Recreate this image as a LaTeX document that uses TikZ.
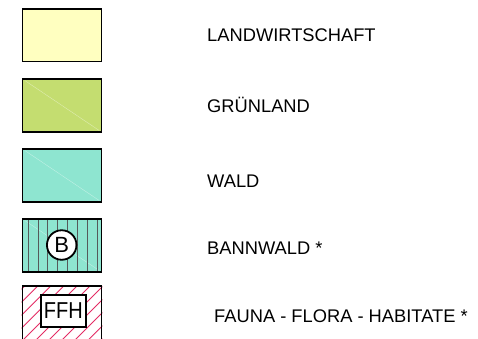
\documentclass[tikz,border=0pt]{standalone}
\usepackage{fontspec}
\usepackage{graphicx}
\setmainfont{Liberation Sans}
\definecolor{cyellow}{RGB}{255,255,192}
\definecolor{cgreen}{RGB}{196,221,112}
\definecolor{cteal}{RGB}{142,229,208}
\definecolor{chatch}{RGB}{228,44,100}
\definecolor{cstripe}{RGB}{85,90,90}
\tikzset{
  legbox/.style={draw=black, line width=1.6pt, rectangle, inner sep=0pt,
    minimum width=79pt, minimum height=52.5pt},
  legtext/.style={anchor=base west, inner sep=0pt, font=\fontsize{18.3}{18.3}\selectfont},
  glint/.style={white, opacity=0.45, line width=0.4pt},
  stripe/.style={cstripe, line width=1pt},
  hatchline/.style={chatch, line width=0.9pt},
  badge/.style={draw=black, fill=white, line width=1.8pt, inner sep=0pt}
}
\begin{document}
\begin{tikzpicture}[x=1pt,y=-1pt]
\useasboundingbox (0,0) rectangle (478,338);
% 1 Landwirtschaft
\node[legbox, fill=cyellow] (b1) at (62,35.25) {};
\node[legtext] (t1) at (207,41.7) {LANDWIRTSCHAFT};
% 2 Gruenland
\node[legbox, fill=cgreen] (b2) at (62,105.5) {};
\draw[glint] ([shift={(3,2)}]b2.north west) -- ([shift={(-3,-2)}]b2.south east);
\node[legtext] (t2) at (207,112.7) {GRÜNLAND};
% 3 Wald
\node[legbox, fill=cteal] (b3) at (62,175.5) {};
\draw[glint] ([shift={(3,2)}]b3.north west) -- ([shift={(-3,-2)}]b3.south east);
\node[legtext] (t3) at (207,187.3) {WALD};
% 4 Bannwald
\node[legbox, fill=cteal] (b4) at (62,245.5) {};
\draw[glint] ([shift={(3,2)}]b4.north west) -- ([shift={(-3,-2)}]b4.south east);
\foreach \k in {0,...,7}{
  \draw[stripe] ({28.2+9.87*\k},219.5) -- ({28.2+9.87*\k},271.5);
}
\node[legbox, fill=none] (b4f) at (62,245.5) {};
\node[badge, circle, minimum size=29.5pt, font=\fontsize{22}{22}\selectfont] (bb) at (61.7,245) {B};
\node[legtext] (t4) at (207,254) {BANNWALD *};
% 5 FFH
\node[legbox, fill=white, minimum height=60pt, draw=none] (b5) at (62,316) {};
\begin{scope}
  \clip (b5.north west) rectangle (b5.south east);
  \foreach \k in {-1,...,11}{
    \draw[hatchline] ({310.7+13.05*\k-400},400) -- ({310.7+13.05*\k-250},250);
  }
\end{scope}
\node[legbox, fill=none, minimum height=60pt] (b5f) at (62,316) {};
\node[badge, rectangle, minimum width=45pt, minimum height=32.5pt] (ffh) at (63.4,311) {\scalebox{0.87}[1]{\fontsize{23}{23}\selectfont FFH}};
\node[legtext] (t5) at (214,322.7) {FAUNA - FLORA - HABITATE *};
\end{tikzpicture}
\end{document}
